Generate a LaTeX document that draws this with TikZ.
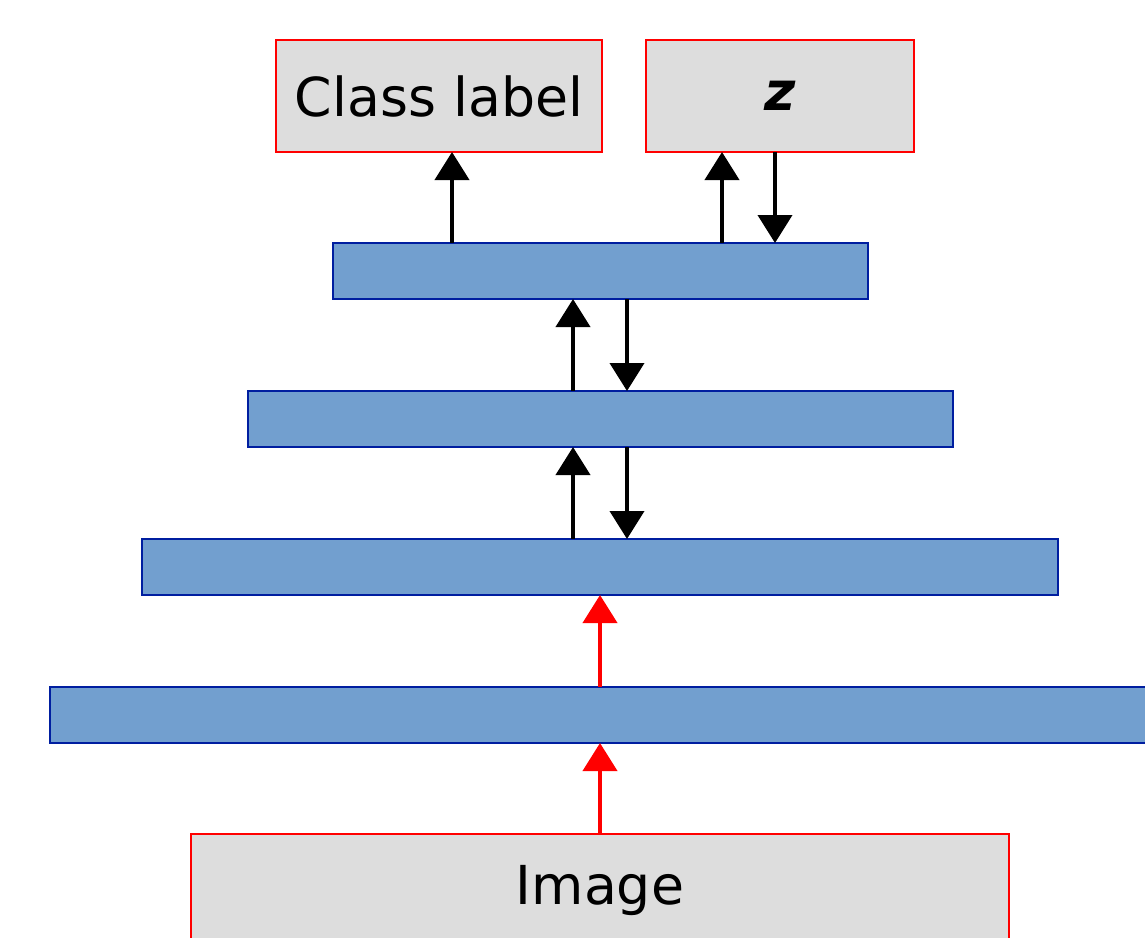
\documentclass[tikz,border=0pt]{standalone}
\usepackage{fontspec}
\setmainfont{DejaVu Sans}
\usetikzlibrary{arrows.meta}
\definecolor{boxgray}{HTML}{DDDDDD}
\definecolor{barfill}{RGB}{114,159,207}
\definecolor{barline}{RGB}{0,30,160}
\tikzset{
  iobox/.style={draw=red, fill=boxgray, line width=2pt, inner sep=0pt, outer sep=0pt,
    minimum height=112pt, font=\fontsize{53.7}{60}\selectfont},
  layer/.style={draw=barline, fill=barfill, line width=2pt, inner sep=0pt, outer sep=0pt,
    minimum height=56pt},
  flow/.style={line width=4pt, -{Triangle[width=34pt,length=28pt]}},
  inflow/.style={flow, red},
}
\begin{document}
\begin{tikzpicture}[x=1pt,y=-1pt]
\useasboundingbox (0,0) rectangle (1145,937);
\clip (0,0) rectangle (1145,937);
% output heads
\node[iobox, minimum width=326pt] (cls) at (439,96) {Class label};
\node[iobox, minimum width=268pt] (zbox) at (780,96) {\bfseries\itshape z};
% stacked layers
\node[layer, minimum width=535pt] (l1) at (600.5,271) {};
\node[layer, minimum width=705pt] (l2) at (600.5,419) {};
\node[layer, minimum width=916pt] (l3) at (600,567) {};
\node[layer, minimum width=1100pt] (l4) at (600,715) {};
% input
\node[iobox, minimum width=818pt] (img) at (600,890) {Image};
% upward and downward passes
\draw[flow] (452,0 |- l1.north) -- (452,0 |- cls.south);
\draw[flow] (722,0 |- l1.north) -- (722,0 |- zbox.south);
\draw[flow] (775,0 |- zbox.south) -- (775,0 |- l1.north);
\draw[flow] (573,0 |- l2.north) -- (573,0 |- l1.south);
\draw[flow] (627,0 |- l1.south) -- (627,0 |- l2.north);
\draw[flow] (573,0 |- l3.north) -- (573,0 |- l2.south);
\draw[flow] (627,0 |- l2.south) -- (627,0 |- l3.north);
\draw[inflow] (l4.north) -- (l3.south);
\draw[inflow] (img.north) -- (l4.south);
\end{tikzpicture}
\end{document}
